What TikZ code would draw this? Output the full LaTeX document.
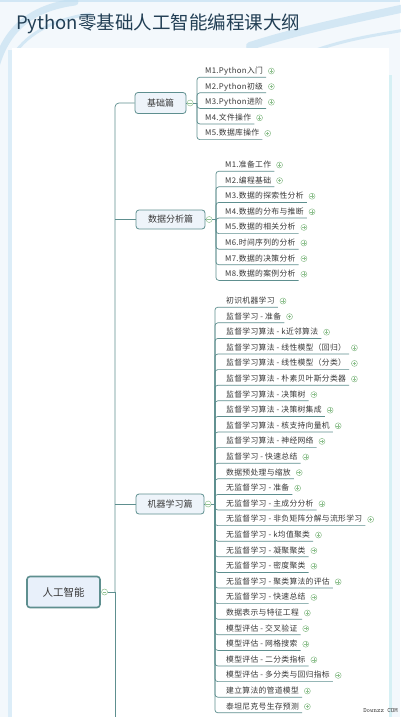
\documentclass[tikz,border=0pt]{standalone}
\usepackage{fontspec}
\newfontfamily\cjk{Noto Sans CJK SC}
\newfontfamily\leaffont[LetterSpace=4]{Noto Sans CJK SC}
\usetikzlibrary{positioning}
\definecolor{linkc}{HTML}{5E8F8F}
\definecolor{boxc}{HTML}{EEF4FA}
\definecolor{rootc}{HTML}{E8F0FA}
\definecolor{plusc}{HTML}{8FC08F}
\definecolor{titlec}{HTML}{223F55}
\definecolor{textc}{HTML}{383838}
\definecolor{bgc}{HTML}{F3F8FC}
\definecolor{swirlc}{HTML}{BFDDF0}
\definecolor{stripc}{HTML}{DCEDF8}
\definecolor{stripr}{HTML}{D6F0F4}

\begin{document}
\begin{tikzpicture}[x=1pt, y=-1pt,
  link/.style={draw=linkc, line width=0.7pt},
  topic/.style={draw=linkc, line width=0.8pt, rounded corners=3pt, fill=boxc,
    inner sep=0pt, text=textc, font=\cjk\fontsize{9}{10}\selectfont},
  root/.style={draw=linkc, line width=1.6pt, rounded corners=3pt, fill=rootc,
    minimum width=73pt, minimum height=31pt, inner sep=0pt, text=textc,
    font=\cjk\fontsize{10.5}{12}\selectfont},
  leaf/.style={anchor=west, inner xsep=3pt, inner ysep=2pt, text height=6.5pt,
    text depth=1.5pt, text=textc, font=\leaffont\fontsize{7.8}{9}\selectfont},
  dot/.style={circle, draw=plusc, line width=0.5pt, minimum size=6pt,
    inner sep=0pt, fill=white},
  plusdot/.style={dot, path picture={
    \draw[plusc, line width=0.5pt] ([xshift=-1.8pt]path picture bounding box.center)
      -- ([xshift=1.8pt]path picture bounding box.center)
      ([yshift=-1.8pt]path picture bounding box.center)
      -- ([yshift=1.8pt]path picture bounding box.center);}},
  minusdot/.style={dot, path picture={
    \draw[plusc, line width=0.5pt] ([xshift=-1.8pt]path picture bounding box.center)
      -- ([xshift=1.8pt]path picture bounding box.center);}},
  swirl/.style={draw=swirlc, line cap=round, opacity=0.6},
]
\useasboundingbox (0,0) rectangle (400,717);

% page and card
\fill[bgc] (0,0) rectangle (400,717);
\fill[swirlc!70] (0,0) rectangle (400,2);
\draw[swirl, line width=7pt] (-5,70) .. controls (5,30) and (30,8) .. (75,2);
\draw[swirl, line width=3pt] (10,60) .. controls (25,35) and (50,20) .. (90,14);
\draw[swirl, line width=8pt] (250,46) .. controls (300,30) and (350,20) .. (405,8);
\draw[swirl, line width=3pt] (300,56) .. controls (340,40) and (370,36) .. (405,30);
\fill[white] (12,48) rectangle (389,717);
\fill[stripc] (8,50) rectangle (12,717);
\fill[stripr] (389,75) rectangle (392,717);

\node[anchor=west, inner sep=0pt, text=titlec, font=\cjk\fontsize{18.5}{20}\selectfont]
  (title) at (16,24) {Python零基础人工智能编程课大纲};

% root and trunk
\node[root] (ai) at (63.5,592) {人工智能};
\node[minusdot, right=0.5pt of ai] (aidot) {};
\coordinate (tk) at (115,592);
\coordinate (tkend) at (115,717);
\draw[link] (aidot) -- (tk);
\draw[link] (tk) -- (tkend);

% 基础篇
\node[topic, minimum width=51pt, minimum height=21pt] (jc) at (160.5,103) {基础篇};
\node[minusdot, right=0.5pt of jc] (jcdot) {};
\coordinate[right=3.5pt of jcdot] (v1);
\draw[link, rounded corners=4pt] (tk) |- (jc.west);
\draw[link] (jc) -- (jcdot) -- (v1);
\foreach \t [count=\i] in {M1.Python入门, M2.Python初级, M3.Python进阶, M4.文件操作, M5.数据库操作} {
  \node[leaf] (a\i) at (202,{71+15.6*(\i-1)}) {\t};
  \node[plusdot, right=2pt of a\i] (ap\i) {};
  \draw[link, rounded corners=3pt] (v1) |- (a\i.south east);
}

% 数据分析篇
\node[topic, minimum width=69pt, minimum height=19pt] (sj) at (170.5,219.5) {数据分析篇};
\node[minusdot, right=0.5pt of sj] (sjdot) {};
\coordinate[right=3.5pt of sjdot] (v2);
\draw[link] (sj.west) -- (sj.west -| tk);
\draw[link] (sj) -- (sjdot) -- (v2);
\foreach \t [count=\i] in {M1.准备工作, M2.编程基础, M3.数据的探索性分析, M4.数据的分布与推断,
  M5.数据的相关分析, M6.时间序列的分析, M7.数据的决策分析, M8.数据的案例分析} {
  \node[leaf] (b\i) at (222,{165+15.6*(\i-1)}) {\t};
  \node[plusdot, right=2pt of b\i] (bp\i) {};
  \draw[link, rounded corners=3pt] (v2) |- (b\i.south east);
}

% 机器学习篇
\node[topic, minimum width=68pt, minimum height=20pt] (ml) at (170,504) {机器学习篇};
\node[minusdot, right=0.5pt of ml] (mldot) {};
\coordinate[right=3.5pt of mldot] (v3);
\draw[link] (ml.west) -- (ml.west -| tk);
\draw[link] (ml) -- (mldot) -- (v3);
\foreach \t [count=\i] in {初识机器学习, 监督学习 - 准备, 监督学习算法 - k近邻算法,
  监督学习算法 - 线性模型（回归）, 监督学习算法 - 线性模型（分类）,
  监督学习算法 - 朴素贝叶斯分类器, 监督学习算法 - 决策树, 监督学习算法 - 决策树集成,
  监督学习算法 - 核支持向量机, 监督学习算法 - 神经网络, 监督学习 - 快速总结,
  数据预处理与缩放, 无监督学习 - 准备, 无监督学习 - 主成分分析,
  无监督学习 - 非负矩阵分解与流形学习, 无监督学习 - k均值聚类, 无监督学习 - 凝聚聚类,
  无监督学习 - 密度聚类, 无监督学习 - 聚类算法的评估, 无监督学习 - 快速总结,
  数据表示与特征工程, 模型评估 - 交叉验证, 模型评估 - 网格搜索, 模型评估 - 二分类指标,
  模型评估 - 多分类与回归指标, 建立算法的管道模型, 泰坦尼克号生存预测} {
  \node[leaf] (c\i) at (223,{301+15.6*(\i-1)}) {\t};
  \node[plusdot, right=2pt of c\i] (cp\i) {};
  \draw[link, rounded corners=3pt] (v3) |- (c\i.south east);
}

\node[anchor=east, inner sep=0pt, text=black!75, font=\ttfamily\fontsize{6.5}{7}\selectfont]
  (mark) at (398,711) {Downzz COM};
\end{tikzpicture}
\end{document}
